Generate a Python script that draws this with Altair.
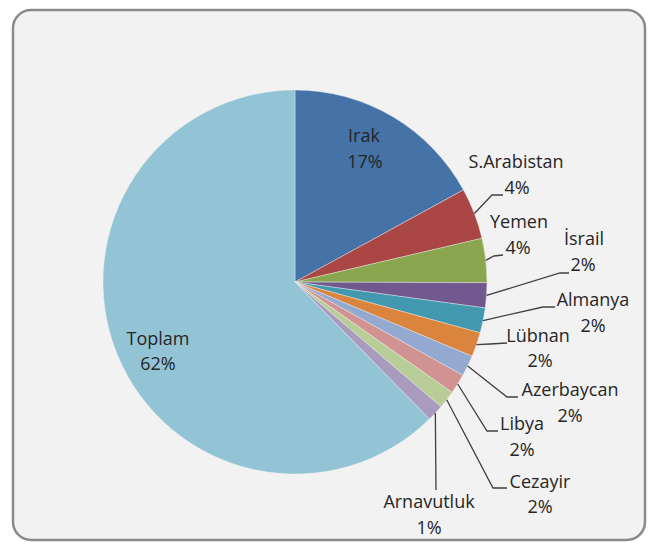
import altair as alt
import pandas as pd
import numpy as np

# ---- data ----
categories = ["Irak", "S.Arabistan", "Yemen", "İsrail", "Almanya", "Lübnan",
              "Azerbaycan", "Libya", "Cezayir", "Arnavutluk", "Toplam"]
values = [17.0, 4.3, 3.7, 2.1, 2.1, 2.05, 1.75, 1.67, 1.5, 1.4, 62.2]
pct_labels = ["17%", "4%", "4%", "2%", "2%", "2%", "2%", "2%", "2%", "1%", "62%"]
colors = ["#4572A7", "#AA4643", "#89A54E", "#71588F", "#4198AF", "#DB843D",
          "#93A9CF", "#D19392", "#B9CD96", "#A99BBD", "#93C4D6"]

# ---- layout (page pixel coordinates) ----
OFF = 8
W, H = 640, 534
CX, CY, R = 295 - OFF, 282 - OFF, 192
name_pos = [(364, 137), (516, 163), (519, 223), (584, 240), (593, 301), (538, 337),
            (570, 391), (522, 425), (540, 483), (429, 503), (158, 340)]
pct_pos = [(365, 163), (517, 189), (518, 249), (583, 266), (593, 327), (540, 362),
           (570, 417), (522, 451), (540, 508), (429, 529), (158, 365)]
# leader lines: elbow and end points (None = no leader)
leaders = [None, ((492, 195), (503, 195)), ((494, 256), (503, 255)),
           ((560, 273), (569, 273)), ((543, 307), (555, 307)), ((490, 344), (507, 343)),
           ((507, 397), (518, 397)), ((487, 431), (498, 431)), ((493, 488), (507, 488)),
           ((436, 490), (436, 490)), None]

FONT = "Open Sans"

df = pd.DataFrame({"cat": categories, "value": values, "idx": range(len(categories))})

# label table
lab = pd.DataFrame({
    "cat": categories,
    "name": categories,
    "pct": pct_labels,
    "nx": [p[0] - OFF for p in name_pos],
    "ny": [p[1] - OFF for p in name_pos],
    "px": [p[0] - OFF for p in pct_pos],
    "py": [p[1] - OFF for p in pct_pos],
})

# leader lines, starting at the slice edge at the mid angle
vals = np.array(values)
cum = np.cumsum(vals) / vals.sum() * 360.0
start = np.concatenate([[0.0], cum[:-1]])
mid = np.radians((start + cum) / 2)
rows = []
for i, ld in enumerate(leaders):
    if ld is None:
        continue
    sx = CX + R * np.sin(mid[i])
    sy = CY - R * np.cos(mid[i])
    pts = [(sx, sy), (ld[0][0] - OFF, ld[0][1] - OFF), (ld[1][0] - OFF, ld[1][1] - OFF)]
    for k, (x, y) in enumerate(pts):
        rows.append({"cat": categories[i], "k": k, "x": x, "y": y})
ldf = pd.DataFrame(rows)

xs = alt.Scale(domain=[0, W], range=[0, W])
ys = alt.Scale(domain=[0, H], range=[0, H])

frame = alt.Chart(pd.DataFrame({"a": [0]})).mark_rect(
    fill="#f2f2f2", stroke="#8a8a8a", strokeWidth=2.5, cornerRadius=18
).encode(x=alt.value(5), x2=alt.value(637), y=alt.value(2), y2=alt.value(532))

pie = alt.Chart(df).mark_arc(outerRadius=R, stroke="#f2f2f2", strokeWidth=0.4).encode(
    theta=alt.Theta("value:Q", stack=True),
    order=alt.Order("idx:Q"),
    color=alt.Color("cat:N", scale=alt.Scale(domain=categories, range=colors), legend=None),
    x=alt.value(CX), y=alt.value(CY),
)

lines = alt.Chart(ldf).mark_line(color="#404040", strokeWidth=1.3).encode(
    x=alt.X("x:Q", scale=xs, axis=None),
    y=alt.Y("y:Q", scale=ys, axis=None),
    detail="cat:N",
    order="k:Q",
)

names = alt.Chart(lab).mark_text(font=FONT, fontSize=18, color="#262626",
                                 baseline="middle", align="center").encode(
    x=alt.X("nx:Q", scale=xs, axis=None),
    y=alt.Y("ny:Q", scale=ys, axis=None),
    text="name:N",
)
pcts = alt.Chart(lab).mark_text(font=FONT, fontSize=18, color="#262626",
                                baseline="middle", align="center").encode(
    x=alt.X("px:Q", scale=xs, axis=None),
    y=alt.Y("py:Q", scale=ys, axis=None),
    text="pct:N",
)

chart = alt.layer(frame, pie, lines, names, pcts).properties(
    width=W, height=H, padding=0, autosize=alt.AutoSizeParams(type="none"),
    background="white",
).configure_view(stroke=None)

chart.save("out.html", embed_options={"renderer": "svg", "actions": False})
